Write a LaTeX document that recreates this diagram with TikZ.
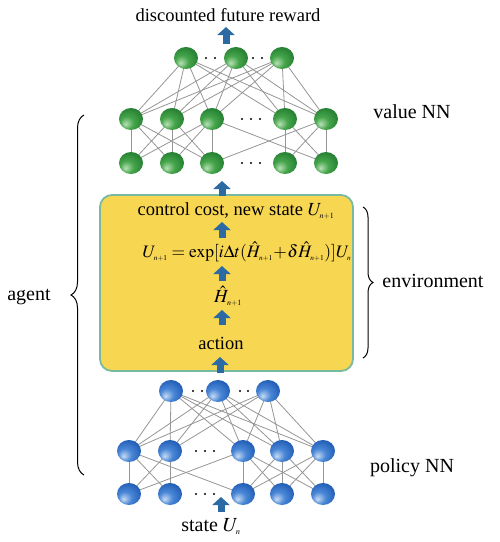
\documentclass[tikz,border=0pt]{standalone}
\usepackage{mathptmx}
\usepackage[no-math]{fontspec}
\setmainfont{Liberation Serif}
\usetikzlibrary{decorations.pathreplacing,backgrounds,shapes.geometric,arrows.meta}
\DeclareMathSizes{18.5}{18.5}{9}{8}
\DeclareMathSizes{17.5}{17.5}{8.5}{7.5}
\DeclareMathSizes{20}{20}{10}{8.5}
\newcommand\sbs[1]{_{\scriptscriptstyle #1}}
\definecolor{edgegray}{RGB}{150,150,150}
\definecolor{arrowblue}{RGB}{44,106,164}
\definecolor{boxfill}{RGB}{247,214,82}
\definecolor{boxline}{RGB}{120,186,160}
\definecolor{gD}{RGB}{30,120,45}
\definecolor{gM}{RGB}{70,165,75}
\definecolor{gL}{RGB}{185,225,185}
\definecolor{bD}{RGB}{25,85,175}
\definecolor{bM}{RGB}{75,135,215}
\definecolor{bL}{RGB}{200,220,242}
\pgfdeclareradialshading{greenball}{\pgfpoint{-12bp}{-12bp}}{color(0bp)=(gL); color(14bp)=(gM); color(34bp)=(gD); color(50bp)=(gD!85!black)}
\pgfdeclareradialshading{blueball}{\pgfpoint{-12bp}{-12bp}}{color(0bp)=(bL); color(14bp)=(bM); color(34bp)=(bD); color(50bp)=(bD!85!black)}
\tikzset{
  neuron/.style={ellipse, minimum width=24pt, minimum height=22pt, inner sep=0pt},
  gneuron/.style={neuron, shading=greenball},
  bneuron/.style={neuron, shading=blueball},
  link/.style={draw=edgegray, line width=0.8pt},
  ndot/.style={circle, fill=black, inner sep=0pt, minimum size=2.4pt},
  blockarrow/.style={draw=arrowblue, line width=7pt, -{Triangle[width=17pt,length=8pt]}},
  envbox/.style={draw=boxline, line width=1.8pt, fill=boxfill, rounded corners=12pt, minimum width=253pt, minimum height=176pt},
  boxtext/.style={inner sep=0pt, font=\fontsize{18.5}{22}\selectfont},
  eqtext/.style={inner sep=0pt, font=\fontsize{17.5}{20}\selectfont},
  sidelabel/.style={inner sep=0pt, font=\fontsize{20}{24}\selectfont},
  bracestyle/.style={draw=black, line width=1pt, decorate}
}
\begin{document}
\begin{tikzpicture}[x=1pt,y=-1pt]
\useasboundingbox (0,0) rectangle (500,542);

% ---------- value NN (green) ----------
\foreach \n/\x in {1/186,2/236,3/282} \node[gneuron] (gt\n) at (\x,58) {};
\foreach \n/\x in {1/131,2/172,3/212,4/285,5/326} {
  \node[gneuron] (gm\n) at (\x,119) {};
  \node[gneuron] (gb\n) at (\x,163) {};
}
\foreach \x in {206,215,253,262} \node[ndot] at (\x,58) {};
\foreach \x in {242,251,260} {\node[ndot] at (\x,119) {}; \node[ndot] at (\x,163) {};}

% ---------- policy NN (blue) ----------
\foreach \n/\x in {1/171,2/218,3/268} \node[bneuron] (bt\n) at (\x,391) {};
\foreach \n/\x in {1/129,2/170,3/243,4/282,5/323} {
  \node[bneuron] (bm\n) at (\x,451) {};
  \node[bneuron] (bb\n) at (\x,494) {};
}
\foreach \x in {193,202,240,248} \node[ndot] at (\x,391) {};
\foreach \x in {196,205,214} {\node[ndot] at (\x,451) {}; \node[ndot] at (\x,494) {};}

\begin{pgfonlayer}{background}
  \fill[white] (0,0) rectangle (500,542);
  \foreach \t in {1,2,3} \foreach \m in {1,...,5} {
    \draw[link] (gt\t.center) -- (gm\m.center);
    \draw[link] (bt\t.center) -- (bm\m.center);
  }
  \foreach \a/\b in {1/1,1/2,1/3,2/1,2/2,2/3,3/1,3/2,3/3,3/5,5/3,4/4,4/5,5/4,5/5}
    \draw[link] (gm\a.center) -- (gb\b.center);
  \foreach \a/\b in {1/1,1/2,2/1,2/2,1/3,3/1,3/3,3/4,3/5,4/3,4/4,4/5,5/3,5/4,5/5}
    \draw[link] (bm\a.center) -- (bb\b.center);
\end{pgfonlayer}

% ---------- environment box ----------
\node[envbox] (env) at (226.5,283) {};
\node[boxtext] (cc) at (236,211) {control cost, new state $U\sbs{n+1}$};
\node[eqtext] (eq) at (247,252) {$U\sbs{n+1}=\exp[i\Delta t(\hat{H}\sbs{n+1}\mkern-2mu+\mkern-2mu\delta\hat{H}\sbs{n+1})]U\sbs{n}$};
\node[boxtext] (hh) at (228,296) {$\hat{H}\sbs{n+1}$};
\node[boxtext] (act) at (221,343) {action};

% ---------- labels ----------
\node[boxtext] (reward) at (228,15) {discounted future reward};
\node[sidelabel] (state) at (211,527) {state $U\sbs{n}$};
\node[sidelabel] (valuelbl) at (412,112) {value NN};
\node[sidelabel] (policylbl) at (412,468) {policy NN};
\node[sidelabel] (envlbl) at (433,281) {environment};
\node[sidelabel] (agentlbl) at (29,297) {agent};

% ---------- block arrows ----------
\draw[blockarrow] (226,44) -- (226,27);
\draw[blockarrow] (222,196) -- (222,181);
\draw[blockarrow] (222,238) -- (222,222);
\draw[blockarrow] (222,281) -- (222,266);
\draw[blockarrow] (222,325) -- (222,310);
\draw[blockarrow] (220,373) -- (220,357);
\draw[blockarrow] (221,512) -- (221,497);

% ---------- braces ----------
\draw[bracestyle, decoration={brace, amplitude=13pt}] (84,475) -- (84,115);
\draw[bracestyle, decoration={brace, amplitude=10pt}] (363,207) -- (363,358);
\end{tikzpicture}
\end{document}
